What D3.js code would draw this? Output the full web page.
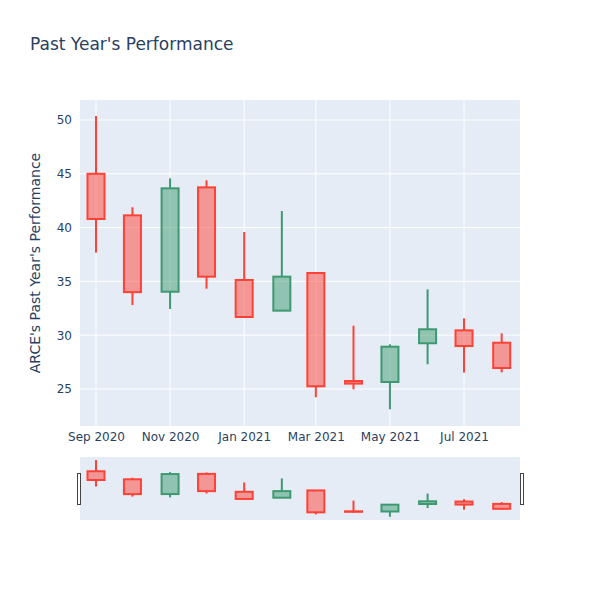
<!DOCTYPE html>
<html><head><meta charset="utf-8">
<script src="https://cdn.jsdelivr.net/npm/d3@7"></script>
<style>body{margin:0;background:#fff}svg{font-family:"DejaVu Sans",Verdana,sans-serif}</style>
</head><body><svg id="c" width="600" height="600"></svg>
<script>
const dates = ["2020-09-01","2020-10-01","2020-11-01","2020-12-01","2021-01-01","2021-02-01","2021-03-01","2021-04-01","2021-05-01","2021-06-01","2021-07-01","2021-08-01"];
const open  = [45.0, 41.14, 34.04, 43.74, 35.13, 32.28, 35.78, 25.74, 25.65, 29.25, 30.45, 29.3];
const high  = [50.37, 41.89, 44.58, 44.4, 39.59, 41.54, 35.78, 30.88, 29.15, 34.26, 31.57, 30.17];
const low   = [37.67, 32.8, 32.43, 34.32, 31.69, 32.28, 24.23, 24.97, 23.11, 27.3, 26.52, 26.55];
const close = [40.8, 34.0, 43.65, 35.44, 31.69, 35.44, 25.25, 25.5, 28.93, 30.55, 28.99, 26.95];
const yTicks = [25, 30, 35, 40, 45, 50];
const xTickDates = ["2020-09-01","2020-11-01","2021-01-01","2021-03-01","2021-05-01","2021-07-01"];
const xTickLabels = ["Sep 2020","Nov 2020","Jan 2021","Mar 2021","May 2021","Jul 2021"];
const titleText = "Past Year's Performance";
const yTitle = "ARCE's Past Year's Performance";

const parse = d3.utcParse("%Y-%m-%d");
const data = dates.map((d,i)=>({date:parse(d),o:open[i],h:high[i],l:low[i],c:close[i]}));
const svg = d3.select("#c");
const L=80,R=520,T=100,B=426;
const x = d3.scaleUtc().domain([Date.UTC(2020,7,18,20), Date.UTC(2021,7,16,2)]).range([L,R]);
const y = d3.scaleLinear().domain([21.56,51.86]).range([B,T]);
const ys = d3.scaleLinear().domain([21.56,51.86]).range([520,457]);
const ink="#2a3f5f", bg="#e5ecf6";
const inc={line:"#3D9970",fill:"rgba(61,153,112,0.5)"}, dec={line:"#FF4136",fill:"rgba(255,65,54,0.5)"};

svg.append("text").attr("x",30).attr("y",50).attr("font-size",17).attr("fill",ink).text(titleText);
svg.append("rect").attr("x",L).attr("y",T).attr("width",R-L).attr("height",B-T).attr("fill",bg);

// grid
svg.append("g").selectAll("line").data(yTicks).join("line")
  .attr("x1",L).attr("x2",R).attr("y1",d=>y(d)).attr("y2",d=>y(d)).attr("stroke","#fff").attr("stroke-width",1);
svg.append("g").selectAll("line").data(xTickDates).join("line")
  .attr("x1",d=>x(parse(d))).attr("x2",d=>x(parse(d))).attr("y1",T).attr("y2",B).attr("stroke","#fff").attr("stroke-width",1);

// axes labels
const yAxis = d3.axisLeft(y).tickValues(yTicks).tickSize(0).tickPadding(8);
const gy = svg.append("g").attr("transform",`translate(${L},0)`).call(yAxis);
gy.select(".domain").remove();
gy.selectAll("text").attr("font-size",12).attr("fill",ink).attr("font-family","DejaVu Sans");
const xAxis = d3.axisBottom(x).tickValues(xTickDates.map(parse)).tickFormat((d,i)=>xTickLabels[i]).tickSize(0).tickPadding(6);
const gx = svg.append("g").attr("transform",`translate(0,${B})`).call(xAxis);
gx.select(".domain").remove();
gx.selectAll("text").attr("font-size",12).attr("fill",ink).attr("font-family","DejaVu Sans");

svg.append("text").attr("transform",`translate(40,${(T+B)/2}) rotate(-90)`).attr("text-anchor","middle")
  .attr("font-size",14).attr("fill",ink).text(yTitle);

function candles(g, ys){
  const w=17;
  const gg = g.selectAll("g").data(data).join("g");
  gg.each(function(d){
    const s = d.c>=d.o?inc:dec;
    const cx = x(d.date), top=ys(Math.max(d.o,d.c)), bot=ys(Math.min(d.o,d.c));
    const sel=d3.select(this);
    sel.append("line").attr("x1",cx).attr("x2",cx).attr("y1",ys(d.h)).attr("y2",top).attr("stroke",s.line).attr("stroke-width",2);
    sel.append("line").attr("x1",cx).attr("x2",cx).attr("y1",bot).attr("y2",ys(d.l)).attr("stroke",s.line).attr("stroke-width",2);
    sel.append("rect").attr("x",cx-w/2).attr("y",top).attr("width",w).attr("height",Math.max(bot-top,0.01))
      .attr("fill",s.fill).attr("stroke",s.line).attr("stroke-width",2);
  });
}
candles(svg.append("g"), y);

// range slider
svg.append("rect").attr("x",L).attr("y",457).attr("width",R-L).attr("height",63).attr("fill",bg);
candles(svg.append("g"), ys);
[L-2.5, R+0.5].forEach(hx=>{
  svg.append("rect").attr("x",hx).attr("y",473.5).attr("width",3).attr("height",31).attr("fill","#fff").attr("stroke","#444").attr("stroke-width",1);
});
</script></body></html>
